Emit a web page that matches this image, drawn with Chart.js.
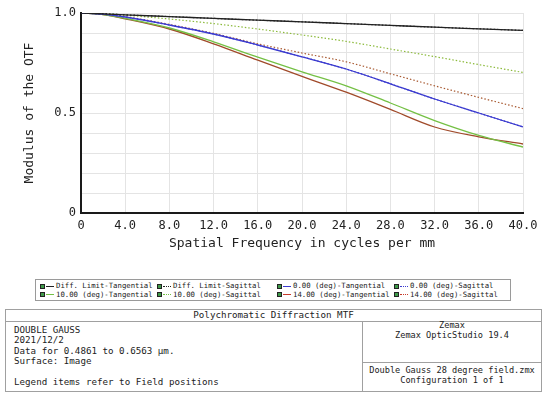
<!DOCTYPE html>
<html>
<head>
<meta charset="utf-8">
<script src="https://cdn.jsdelivr.net/npm/chart.js@4"></script>
<style>
  html, body { margin:0; padding:0; background:#fff; }
  body { width:550px; height:398px; position:relative; overflow:hidden; font-family:"DejaVu Sans Mono", monospace; }
  #wrap { position:absolute; left:0; top:0; width:550px; height:260px; }
  .abs { position:absolute; white-space:pre; color:#222; }
  #legend { position:absolute; left:35px; top:279px; width:476px; height:22px; border:1px solid #9a9a9a; box-sizing:border-box; }
  .item { position:absolute; height:8px; width:118px; font-size:7.3px; line-height:8px; white-space:nowrap; }
  .ico { position:absolute; left:0; top:1.5px; width:5px; height:5px; background:#3f9a4a; border:1px solid #222; box-sizing:border-box; }
  .smp { position:absolute; left:6px; top:3.5px; width:8px; height:0; }
  .txt { position:absolute; left:16px; top:0; color:#222; white-space:nowrap; }
  .box { position:absolute; border:1px solid #a0a0a0; box-sizing:border-box; }
  .tb { font-size:9.2px; line-height:10.4px; }
  .tr { font-size:8.6px; line-height:10.2px; }
</style>
</head>
<body>
<div id="wrap"><canvas id="c" width="550" height="260"></canvas></div>
<div id="legend"></div>

<div class="box" style="left:5px; top:309px; width:537px; height:83px;"></div>
<div class="box" style="left:5px; top:309px; width:537px; height:13px;"></div>
<div class="box" style="left:362px; top:321px; width:180px; height:71px;"></div>
<div class="box" style="left:362px; top:362px; width:180px; height:30px;"></div>

<div class="abs tb" style="left:5px; width:537px; top:310px; text-align:center;">Polychromatic Diffraction MTF</div>
<div class="abs tb" style="left:14px; top:325px;">DOUBLE GAUSS
2021/12/2
Data for 0.4861 to 0.6563 µm.
Surface: Image

Legend items refer to Field positions</div>
<div class="abs tr" style="left:362px; width:180px; top:320px; text-align:center;">Zemax
Zemax OpticStudio 19.4</div>
<div class="abs tr" style="left:362px; width:180px; top:365px; text-align:center;">Double Gauss 28 degree field.zmx
Configuration 1 of 1</div>

<script>
// Spatial frequency (cycles/mm)
const freq = [0, 2, 4, 8, 12, 16, 20, 24, 28, 32, 36, 40];
// Modulus of the OTF
const diffT  = [1.000, 0.996, 0.991, 0.982, 0.973, 0.964, 0.956, 0.947, 0.938, 0.929, 0.921, 0.913];
const diffS  = [1.000, 0.996, 0.991, 0.982, 0.973, 0.964, 0.956, 0.947, 0.938, 0.929, 0.921, 0.913];
const f0T    = [1.000, 0.994, 0.980, 0.940, 0.895, 0.840, 0.781, 0.720, 0.646, 0.570, 0.500, 0.430];
const f0S    = [1.000, 0.994, 0.980, 0.940, 0.895, 0.840, 0.781, 0.720, 0.646, 0.570, 0.500, 0.430];
const f10T   = [1.000, 0.992, 0.973, 0.925, 0.856, 0.779, 0.706, 0.636, 0.550, 0.462, 0.388, 0.330];
const f10S   = [1.000, 0.997, 0.989, 0.970, 0.947, 0.920, 0.890, 0.858, 0.820, 0.782, 0.742, 0.703];
const f14T   = [1.000, 0.992, 0.971, 0.920, 0.846, 0.764, 0.683, 0.604, 0.518, 0.430, 0.381, 0.345];
const f14S   = [1.000, 0.995, 0.982, 0.943, 0.898, 0.846, 0.800, 0.756, 0.696, 0.636, 0.578, 0.522];

const xTicks = ['0', '4.0', '8.0', '12.0', '16.0', '20.0', '24.0', '28.0', '32.0', '36.0', '40.0'];
const yTickLabels = { 0: '0', 5: '0.5', 10: '1.0' };

const seriesNames = ['Diff. Limit-Tangential', 'Diff. Limit-Sagittal', '0.00 (deg)-Tangential', '0.00 (deg)-Sagittal',
                     '10.00 (deg)-Tangential', '10.00 (deg)-Sagittal', '14.00 (deg)-Tangential', '14.00 (deg)-Sagittal'];
const seriesData = [diffT, diffS, f0T, f0S, f10T, f10S, f14T, f14S];
const seriesColor = ['#222222', '#222222', '#3b3bcf', '#3b3bcf', '#74c044', '#8cba3c', '#a04a2a', '#a85a32'];
const legendColor = ['#222222', '#222222', '#3b3bcf', '#3b3bcf', '#74c044', '#74c044', '#c83a2a', '#c83a2a'];
const seriesDotted = [false, true, false, true, false, true, false, true];

const datasets = seriesNames.map((n, i) => ({
  label: n,
  data: freq.map((f, j) => ({ x: f, y: seriesData[i][j] })),
  borderColor: seriesColor[i],
  borderWidth: seriesDotted[i] ? 1.2 : 1.3,
  borderDash: seriesDotted[i] ? [1.5, 2] : [],
  pointRadius: 0,
  fill: false,
  cubicInterpolationMode: 'monotone'
}));

const font = '"DejaVu Sans Mono", monospace';

new Chart(document.getElementById('c'), {
  type: 'line',
  data: { datasets },
  options: {
    responsive: false,
    animation: false,
    devicePixelRatio: 1,
    layout: { padding: { left: 0, right: 27, top: 13, bottom: 0 } },
    plugins: { legend: { display: false }, tooltip: { enabled: false } },
    scales: {
      x: {
        type: 'linear', min: 0, max: 40,
        afterFit: s => { s.height = 47; },
        grid: { color: '#e4e4e4', lineWidth: 1, drawTicks: false },
        border: { display: true, color: '#1a1a1a', width: 2 },
        ticks: { stepSize: 4, padding: 6, color: '#222', font: { family: font, size: 12 },
                 maxRotation: 0, autoSkip: false,
                 callback: v => xTicks[Math.round(v / 4)] },
        title: { display: true, text: 'Spatial Frequency in cycles per mm', color: '#222',
                 font: { family: font, size: 13 }, padding: { top: 0, bottom: 9 } }
      },
      y: {
        type: 'linear', min: 0, max: 1,
        afterFit: s => { s.width = 81; },
        grid: { color: '#e4e4e4', lineWidth: 1, drawTicks: false },
        border: { display: true, color: '#1a1a1a', width: 2 },
        ticks: { stepSize: 0.1, padding: 5, color: '#222', font: { family: font, size: 12 }, autoSkip: false,
                 callback: v => { const k = Math.round(v * 10); return yTickLabels[k] !== undefined ? yTickLabels[k] : ''; } },
        title: { display: true, text: 'Modulus of the OTF', color: '#222',
                 font: { family: font, size: 13 }, padding: { top: 22, bottom: 0 } }
      }
    }
  }
});

// Legend (HTML)
const cols = [4, 121, 241, 358];
const rows = [2, 10.5];
const leg = document.getElementById('legend');
seriesNames.forEach((n, i) => {
  const col = i % 4, row = Math.floor(i / 4);
  const d = document.createElement('div');
  d.className = 'item';
  d.style.left = cols[col] + 'px';
  d.style.top = rows[row] + 'px';
  const lineStyle = seriesDotted[i] ? 'dotted' : 'solid';
  d.innerHTML = '<div class="ico"></div><div class="smp" style="border-top:1px ' + lineStyle + ' ' + legendColor[i] + ';"></div><div class="txt">' + n + '</div>';
  leg.appendChild(d);
});
</script>
</body>
</html>
